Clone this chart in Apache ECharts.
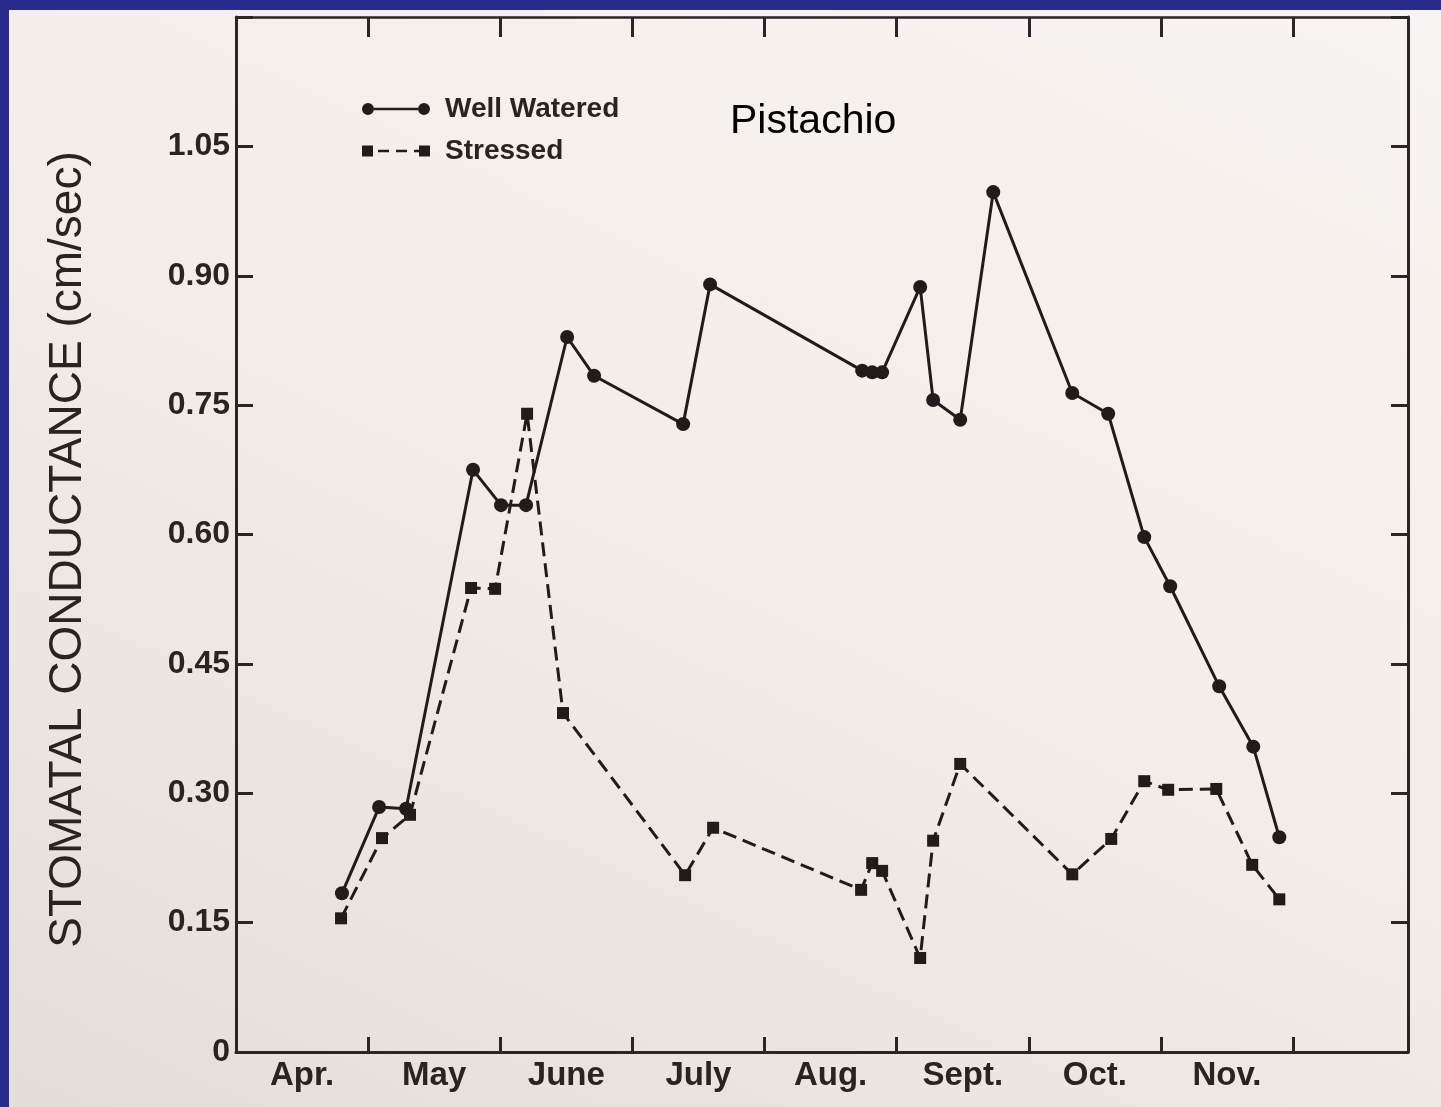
<!DOCTYPE html>
<html><head><meta charset="utf-8">
<script src="https://cdn.jsdelivr.net/npm/echarts@6/dist/echarts.min.js"></script>
<style>
html,body{margin:0;padding:0;width:1441px;height:1107px;overflow:hidden;background:#292b8d;}
#paper{position:absolute;left:9px;top:10px;width:1432px;height:1097px;background:linear-gradient(205deg,#f8f4f1 0%,#f2ede9 50%,#e3ded8 100%);}
#chart{position:absolute;left:0;top:0;width:1441px;height:1107px;}
</style></head><body>
<div id="paper"></div><div id="chart"></div>
<script>
// x values are in months counted from the start of April (Apr. = 0..1, May = 1..2, ...)
const monthLabels = ['Apr.', 'May', 'June', 'July', 'Aug.', 'Sept.', 'Oct.', 'Nov.'];
const monthTicks = [1, 2, 3, 4, 5, 6, 7, 8];
const monthLabelPos = [0.5, 1.5, 2.5, 3.5, 4.5, 5.5, 6.5, 7.5];

const wellX = [0.802, 1.083, 1.287, 1.794, 2.006, 2.195, 2.506, 2.710, 3.384, 3.588,
               4.739, 4.815, 4.890, 5.178, 5.276, 5.481, 5.731, 6.329, 6.601, 6.874,
               7.070, 7.441, 7.699, 7.896];
const wellY = [0.184, 0.284, 0.282, 0.675, 0.634, 0.634, 0.829, 0.784, 0.728, 0.890,
               0.790, 0.788, 0.788, 0.887, 0.756, 0.733, 0.997, 0.764, 0.740, 0.597,
               0.540, 0.424, 0.354, 0.249];

const stressX = [0.795, 1.105, 1.317, 1.779, 1.961, 2.203, 2.475, 3.399, 3.611, 4.731,
                 4.815, 4.890, 5.178, 5.276, 5.481, 6.329, 6.624, 6.874, 7.055, 7.419,
                 7.691, 7.896];
const stressY = [0.155, 0.248, 0.275, 0.538, 0.537, 0.740, 0.393, 0.205, 0.260, 0.188,
                 0.219, 0.210, 0.109, 0.245, 0.334, 0.206, 0.247, 0.314, 0.304, 0.305,
                 0.217, 0.177];

const yMin = 0, yMax = 1.2, yStep = 0.15;

const ink = '#211c1a';
const axisInk = '#2b2624';
const font = "'Liberation Sans', Arial, Helvetica, sans-serif";

const wellData = wellX.map((x, i) => [x, wellY[i]]);
const stressData = stressX.map((x, i) => [x, stressY[i]]);

const wellIcon = 'path://M0,6 A6,6 0 1,1 12,6 A6,6 0 1,1 0,6 Z M12,4.8 L56,4.8 L56,7.2 L12,7.2 Z M56,6 A6,6 0 1,1 68,6 A6,6 0 1,1 56,6 Z';
const stressIcon = 'path://M0,0.5 L11,0.5 L11,11.5 L0,11.5 Z M16,4.8 L27,4.8 L27,7.2 L16,7.2 Z M34,4.8 L45,4.8 L45,7.2 L34,7.2 Z M52,4.8 L57,4.8 L57,7.2 L52,7.2 Z M57,0.5 L68,0.5 L68,11.5 L57,11.5 Z M0,0 L0.01,0 L0.01,12 L0,12 Z';

const chart = echarts.init(document.getElementById('chart'), null, {renderer: 'canvas'});
chart.setOption({
  animation: false,
  backgroundColor: 'transparent',
  title: {
    text: 'Pistachio',
    left: 730, top: 99, padding: 0,
    textStyle: {fontFamily: font, fontSize: 41, fontWeight: 'normal', color: '#000', lineHeight: 46}
  },
  legend: {
    orient: 'vertical',
    left: 357, top: 89,
    itemWidth: 68, itemHeight: 12, itemGap: 12,
    itemStyle: {borderWidth: 0},
    textStyle: {fontFamily: font, fontSize: 28, fontWeight: 'bold', color: '#2a2421', lineHeight: 30, padding: [0, 0, 0, 10]},
    data: [
      {name: 'Well Watered', icon: wellIcon},
      {name: 'Stressed', icon: stressIcon}
    ]
  },
  grid: {left: 236, right: 33, top: 17, bottom: 55, containLabel: false},
  xAxis: [
    {
      type: 'value', min: 0, max: 8.87, position: 'bottom',
      axisLine: {show: true, onZero: false, lineStyle: {color: axisInk, width: 3}},
      axisTick: {show: true, inside: true, length: 15, customValues: monthTicks, lineStyle: {color: axisInk, width: 3}},
      axisLabel: {
        show: true, customValues: monthLabelPos, margin: 7,
        fontFamily: font, fontSize: 33, fontWeight: 'bold', color: '#2a2421',
        formatter: v => monthLabels[Math.floor(v)] || ''
      },
      splitLine: {show: false}
    },
    {
      type: 'value', min: 0, max: 8.87, position: 'top',
      axisLine: {show: true, onZero: false, lineStyle: {color: axisInk, width: 2.5}},
      axisTick: {show: true, inside: true, length: 20, customValues: monthTicks, lineStyle: {color: axisInk, width: 3}},
      axisLabel: {show: false},
      splitLine: {show: false}
    }
  ],
  yAxis: [
    {
      type: 'value', min: yMin, max: yMax, interval: yStep, position: 'left',
      name: 'STOMATAL CONDUCTANCE (cm/sec)',
      nameLocation: 'middle', nameGap: 145, nameRotate: 90,
      nameTextStyle: {fontFamily: font, fontSize: 46, fontWeight: 'normal', color: '#2a2421', padding: [0, 30, 0, 0]},
      axisLine: {show: true, onZero: false, lineStyle: {color: axisInk, width: 3}},
      axisTick: {show: true, inside: true, length: 17, lineStyle: {color: axisInk, width: 3}},
      axisLabel: {
        show: true, margin: 6,
        fontFamily: font, fontSize: 32, fontWeight: 'bold', color: '#2a2421',
        formatter: v => (v > 1.1 ? '' : (v === 0 ? '0' : v.toFixed(2)))
      },
      splitLine: {show: false}
    },
    {
      type: 'value', min: yMin, max: yMax, interval: yStep, position: 'right',
      axisLine: {show: true, onZero: false, lineStyle: {color: axisInk, width: 3}},
      axisTick: {show: true, inside: true, length: 17, lineStyle: {color: axisInk, width: 3}},
      axisLabel: {show: false},
      splitLine: {show: false}
    }
  ],
  series: [
    {
      name: 'Well Watered', type: 'line', xAxisIndex: 0, yAxisIndex: 0,
      data: wellData,
      symbol: 'circle', symbolSize: 14,
      itemStyle: {color: ink, borderWidth: 0},
      lineStyle: {color: ink, width: 3, type: 'solid'},
      z: 3
    },
    {
      name: 'Stressed', type: 'line', xAxisIndex: 0, yAxisIndex: 0,
      data: stressData,
      symbol: 'rect', symbolSize: 12,
      itemStyle: {color: ink, borderWidth: 0},
      lineStyle: {color: ink, width: 3, type: [14, 7]},
      z: 2
    }
  ]
});
</script>
</body></html>
